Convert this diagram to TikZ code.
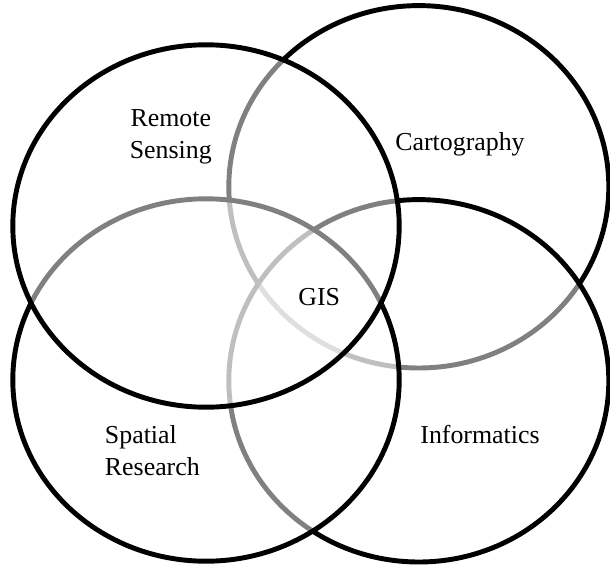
\documentclass[tikz,border=0pt]{standalone}
\usepackage{fontspec}
\setmainfont{Liberation Serif}

\begin{document}
\begin{tikzpicture}[
        field/.style={draw=black, line width=3.5pt, fill=white, fill opacity=0.5},
        tag/.style={align=center, font=\fontsize{18.4}{23}\selectfont}
    ]
            \useasboundingbox (0,0) rectangle (15.25,-14.15);

            % circles, bottom one first
            \draw[field] (10.47,-4.67) ellipse (4.75cm and 4.53cm);
            \draw[field] (10.47,-9.52) ellipse (4.75cm and 4.53cm);
            \draw[field] (5.15,-9.5) ellipse (4.83cm and 4.53cm);
            \draw[field] (5.15,-5.65) ellipse (4.83cm and 4.53cm);

            \node[tag] (remote) at (4.27,-3.42) {Remote\\Sensing};
            \node[tag] (carto) at (11.5,-3.62) {Cartography};
            \node[tag] (gis) at (7.98,-7.42) {GIS};
            \node[tag, align=left, anchor=west] (spatial) at (2.5,-11.27) {Spatial\\Research};
            \node[tag] (info) at (12.0,-10.87) {Informatics};

        \end{tikzpicture}
\end{document}
